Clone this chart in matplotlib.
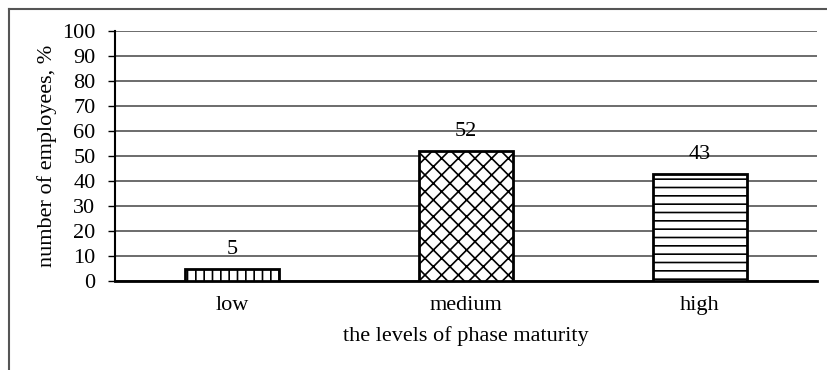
import matplotlib.pyplot as plt
from matplotlib.lines import Line2D

levels = ["low", "medium", "high"]
employees = [5, 52, 43]
hatches = ["||", "xx", "--"]

plt.rcParams['font.family'] = ['Liberation Serif', 'DejaVu Serif']
plt.rcParams['hatch.linewidth'] = 1.2

fig = plt.figure(figsize=(8.27, 3.70), dpi=100)
ax = fig.add_axes([0.139, 0.24, 0.849, 0.676])

x = range(len(levels))
bars = ax.bar(x, employees, width=0.405, color="white", edgecolor="black",
              linewidth=2, zorder=3)
for b, h in zip(bars, hatches):
    b.set_hatch(h)

for xi, v in zip(x, employees):
    ax.annotate(str(v), (xi, v), xytext=(0, 7), textcoords="offset points",
                ha="center", va="bottom", fontsize=16)

ax.set_ylim(0, 100)
ax.set_xlim(-0.5, 2.5)
ax.set_yticks(range(0, 101, 10))
ax.set_xticks(list(x))
ax.set_xticklabels(levels)
ax.yaxis.grid(True, color="#444444", linewidth=1.1, zorder=0)
ax.set_axisbelow(True)
ax.tick_params(axis="y", length=5, width=1, labelsize=16, pad=9)
ax.tick_params(axis="x", length=0, labelsize=16, pad=11)
for s in ["top", "right"]:
    ax.spines[s].set_visible(False)
ax.spines["left"].set_linewidth(1.5)
ax.spines["bottom"].set_linewidth(2)
ax.set_xlabel("the levels of phase maturity", fontsize=16, labelpad=8)
ax.set_ylabel("number of employees, %", fontsize=16, labelpad=4)

# partial frame around the figure
fig.add_artist(Line2D([9 / 827, 1], [1 - 9 / 370, 1 - 9 / 370], color="#555555", lw=1.5))
fig.add_artist(Line2D([9 / 827, 9 / 827], [0, 1 - 9 / 370], color="#555555", lw=1.5))

plt.savefig("out.png", dpi=100)
